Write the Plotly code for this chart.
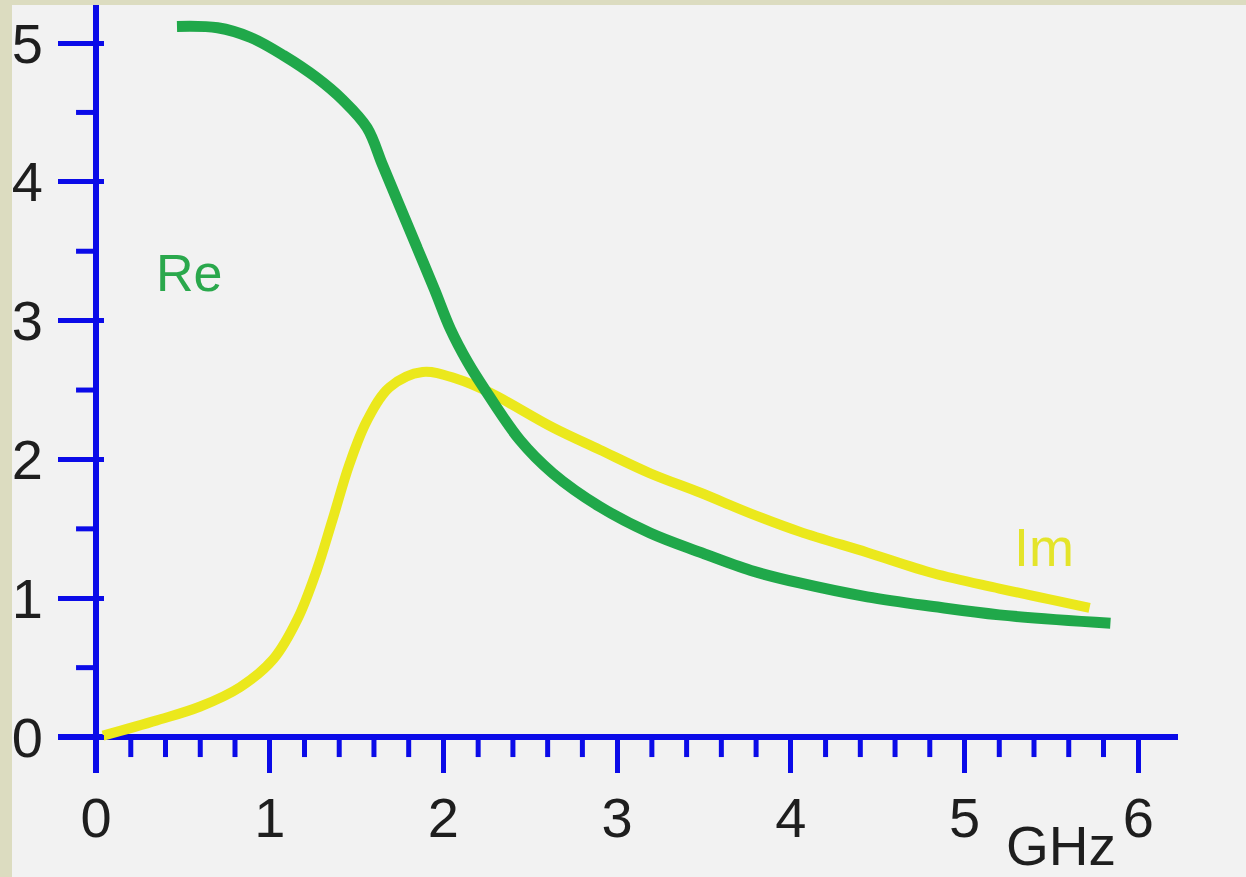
import plotly.graph_objects as go

# Frequency response of a complex quantity: real and imaginary parts vs frequency (GHz)
re_freq = [0.466, 0.70, 0.89, 1.08, 1.27, 1.42, 1.56, 1.65, 1.75, 1.85, 1.95,
           2.04, 2.14, 2.23, 2.44, 2.63, 2.90, 3.19, 3.48, 3.77, 4.05, 4.44,
           4.82, 5.20, 5.84]
re_vals = [5.12, 5.11, 5.04, 4.91, 4.75, 4.59, 4.39, 4.12, 3.82, 3.52, 3.22,
           2.94, 2.70, 2.52, 2.14, 1.90, 1.66, 1.47, 1.33, 1.20, 1.11, 1.01,
           0.94, 0.88, 0.82]

im_freq = [0.04, 0.35, 0.60, 0.83, 1.02, 1.16, 1.27, 1.36, 1.46, 1.56, 1.69,
           1.88, 2.08, 2.27, 2.63, 2.90, 3.19, 3.48, 3.77, 4.05, 4.44, 4.82,
           5.20, 5.72]
im_vals = [0.01, 0.12, 0.22, 0.36, 0.56, 0.85, 1.20, 1.56, 1.97, 2.28, 2.52,
           2.63, 2.58, 2.48, 2.23, 2.07, 1.90, 1.76, 1.61, 1.48, 1.33, 1.18,
           1.07, 0.93]

x_major = [0, 1, 2, 3, 4, 5, 6]
y_major = [0, 1, 2, 3, 4, 5]
x_minor = [round(0.2 * i, 1) for i in range(1, 30) if i % 5 != 0]
y_minor = [0.5, 1.5, 2.5, 3.5, 4.5]

BLUE = "#0b0be8"
GREEN = "#20a84a"
YELLOW = "#ebe81c"
BG = "#f2f2f2"
STRIP = "#dcdcc0"
FONT = "Liberation Sans, Arial, sans-serif"

W, H = 1246, 877
ML, MR, MT, MB = 58, 68, 5, 104
X_RANGE = [-0.219, 6.229]
Y_RANGE = [-0.259, 5.274]
plot_w = W - ML - MR
plot_h = H - MT - MB
px_x = (X_RANGE[1] - X_RANGE[0]) / plot_w   # data units per pixel (x)
px_y = (Y_RANGE[1] - Y_RANGE[0]) / plot_h   # data units per pixel (y)

fig = go.Figure()

# minor ticks on the frequency axis, hanging below the zero line
mx, my = [], []
for v in x_minor:
    mx += [v, v, None]
    my += [0, -20 * px_y, None]
fig.add_trace(go.Scatter(x=mx, y=my, mode="lines",
                         line=dict(color=BLUE, width=5), hoverinfo="skip"))

# minor ticks on the vertical axis, to the left of the line
nx, ny = [], []
for v in y_minor:
    nx += [-20 * px_x, 0, None]
    ny += [v, v, None]
fig.add_trace(go.Scatter(x=nx, y=ny, mode="lines",
                         line=dict(color=BLUE, width=5), hoverinfo="skip"))

fig.add_trace(go.Scatter(x=im_freq, y=im_vals, mode="lines", name="Im",
                         line=dict(color=YELLOW, width=10, shape="spline", smoothing=1.0)))
fig.add_trace(go.Scatter(x=re_freq, y=re_vals, mode="lines", name="Re",
                         line=dict(color=GREEN, width=11, shape="spline", smoothing=1.0)))

label_font = dict(family=FONT, size=56, color="#1e1e1e")

fig.update_xaxes(range=X_RANGE, showgrid=False, showline=False,
                 zeroline=True, zerolinecolor=BLUE, zerolinewidth=6,
                 tickmode="array", tickvals=x_major, ticktext=[str(v) for v in x_major],
                 ticks="inside", ticklen=36, tickwidth=5, tickcolor=BLUE,
                 tickfont=label_font, ticklabelstandoff=7, fixedrange=True)
fig.update_yaxes(range=Y_RANGE, showgrid=False, showline=False,
                 zeroline=True, zerolinecolor=BLUE, zerolinewidth=6,
                 tickmode="array", tickvals=y_major, ticktext=[str(v) for v in y_major],
                 ticks="inside", ticklen=46, tickwidth=5, tickcolor=BLUE,
                 tickfont=label_font, ticklabelstandoff=14, fixedrange=True)

fig.add_annotation(x=0.535, y=3.34, text="Re", showarrow=False,
                   font=dict(family=FONT, size=52, color="#2aa84c"))
fig.add_annotation(x=5.46, y=1.37, text="Im", showarrow=False,
                   font=dict(family=FONT, size=54, color="#e4e42a"))
# unit label below the frequency axis, between the 5 and 6 ticks
fig.add_annotation(x=5.556, xref="x", y=(773 - 846) / plot_h, yref="paper",
                   xanchor="center", yanchor="middle", height=52,
                   text="GHz", showarrow=False,
                   font=dict(family=FONT, size=55, color="#1e1e1e"))

# beige frame strips along the left and top edges
fig.add_shape(type="rect", xref="paper", yref="paper", layer="below", line_width=0,
              fillcolor=STRIP, x0=-ML / plot_w, x1=(12 - ML) / plot_w,
              y0=-MB / plot_h, y1=1 + MT / plot_h)
fig.add_shape(type="rect", xref="paper", yref="paper", layer="below", line_width=0,
              fillcolor=STRIP, x0=-ML / plot_w, x1=1 + MR / plot_w,
              y0=1, y1=1 + MT / plot_h)

fig.update_layout(width=W, height=H, margin=dict(l=ML, r=MR, t=MT, b=MB),
                  paper_bgcolor=BG, plot_bgcolor=BG, showlegend=False)

fig.write_html("out.html")
